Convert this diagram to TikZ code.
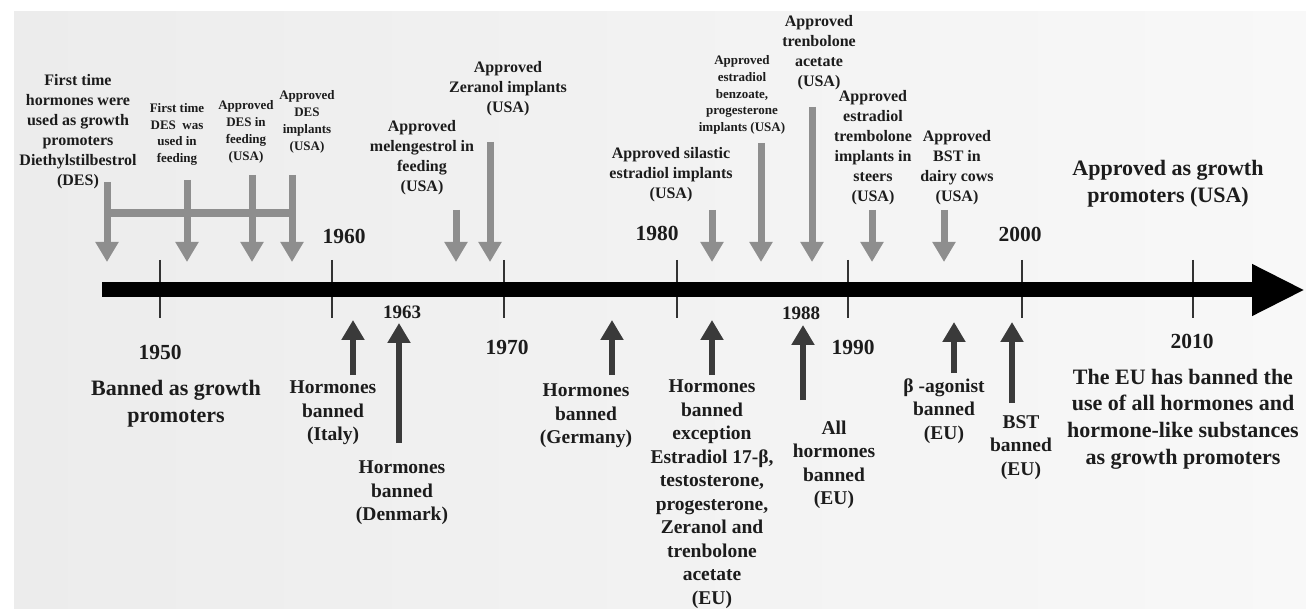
\documentclass[tikz,border=0pt]{standalone}
\usepackage{fontspec}
\setmainfont{Liberation Serif}
\usetikzlibrary{arrows.meta}
\definecolor{txt}{HTML}{1C1C1C}
\definecolor{usa}{HTML}{8E8E8E}
\definecolor{eu}{HTML}{3A3A3A}
\definecolor{bgA}{HTML}{ECECEC}
\definecolor{bgB}{HTML}{F8F8F8}
\definecolor{tickc}{HTML}{333333}
\begin{document}
\begin{tikzpicture}[x=1pt,y=-1pt,
  lbl/.style={align=center,inner sep=0pt,text=txt},
  sA/.style={lbl,font=\bfseries\fontsize{13}{16.8}\selectfont},
  sB/.style={lbl,font=\bfseries\fontsize{16}{20}\selectfont},
  sC/.style={lbl,font=\bfseries\fontsize{19.5}{23.4}\selectfont},
  sD/.style={lbl,font=\bfseries\fontsize{22}{26.7}\selectfont},
  yr/.style={lbl,font=\bfseries\fontsize{21.5}{24}\selectfont},
  yrs/.style={lbl,font=\bfseries\fontsize{19}{22}\selectfont},
  usaarrow/.style={draw=usa,line width=7pt,-{Triangle[width=22pt,length=20pt]}},
  euarrow/.style={draw=eu,line width=6pt,-{Triangle[width=22pt,length=20pt]}},
  tickline/.style={draw=tickc,line width=1.4pt}
]
\useasboundingbox (0,0) rectangle (1306,609);
\fill[white] (0,0) rectangle (1306,609);
\shade[left color=bgA,right color=bgB] (14,12) rectangle (1306,609);

% ticks
\foreach \x in {160,332,504,677,848,1022,1193}{
  \draw[tickline] (\x,260) -- (\x,318);
}
% main axis
\coordinate (axs) at (102,290);
\coordinate (axe) at (1305,290);
\draw[line width=15pt,-{Triangle[width=48pt,length=53pt]}] (axs) -- (axe);

% years
\node[yr]  (y1950) at (160,352) {1950};
\node[yr]  (y1960) at (344,236) {1960};
\node[yrs] (y1963) at (402,312) {1963};
\node[yr]  (y1970) at (507,347) {1970};
\node[yr]  (y1980) at (657,233) {1980};
\node[yrs] (y1988) at (801,313) {1988};
\node[yr]  (y1990) at (853,347) {1990};
\node[yr]  (y2000) at (1020,234) {2000};
\node[yr]  (y2010) at (1192,341) {2010};

% top labels (USA)
\node[sB] (l1) at (78,132) {First time\\hormones were\\used as growth\\promoters\\Diethylstilbestrol\\(DES)};
\node[sA] (l2) at (177,134.5) {First time\\DES\ \ was\\used in\\feeding};
\node[sA] (l3) at (246,132) {Approved\\DES in\\feeding\\(USA)};
\node[sA] (l4) at (307,122) {Approved\\DES\\implants\\(USA)};
\node[sB] (l5) at (422,158) {Approved\\melengestrol in\\feeding\\(USA)};
\node[sB] (l6) at (508,88.5) {Approved\\Zeranol implants\\(USA)};
\node[sB] (l7) at (671,175) {Approved silastic\\estradiol implants\\(USA)};
\node[sA] (l8) at (742,95) {Approved\\estradiol\\benzoate,\\progesterone\\implants (USA)};
\node[sB] (l9) at (819,53) {Approved\\trenbolone\\acetate\\(USA)};
\node[sB] (l10) at (873,148) {Approved\\estradiol\\trembolone\\implants in\\steers\\(USA)};
\node[sB] (l11) at (957,168) {Approved\\BST in\\dairy cows\\(USA)};
\node[sD] (l12) at (1168,184) {Approved as growth\\promoters (USA)};

% bottom labels (bans)
\node[sD] (b0) at (176,403.5) {Banned as growth\\promoters};
\node[sC] (b1) at (333,413) {Hormones\\banned\\(Italy)};
\node[sC] (b2) at (402,493) {Hormones\\banned\\(Denmark)};
\node[sC] (b3) at (586,416) {Hormones\\banned\\(Germany)};
\node[lbl,font=\bfseries\fontsize{19.5}{23.5}\selectfont] (b4) at (712,494) {Hormones\\banned\\exception\\Estradiol 17-β,\\testosterone,\\progesterone,\\Zeranol and\\trenbolone\\acetate\\(EU)};
\node[sC] (b5) at (834,465) {All\\hormones\\banned\\(EU)};
\node[sC] (b6) at (944,411) {β -agonist\\banned\\(EU)};
\node[sC] (b7) at (1021,447.5) {BST\\banned\\(EU)};
\node[sD] (b8) at (1183,419) {The EU has banned the\\use of all hormones and\\hormone-like substances\\as growth promoters};

% top-left joining bar
\coordinate (j1) at (107,213);
\coordinate (j4) at (292,213);
\draw[draw=usa,line width=8pt] (j1) -- (j4);

% USA arrows
\foreach \n/\x/\t in {a1/107/182,a2/187/180,a3/252/175,a4/292/175,a5/456/210,a6/490/142,a7/712/210,a8/761/143,a9/812/107,a10/872/210,a11/944/210}{
  \coordinate (\n s) at (\x,\t);
  \coordinate (\n e) at (\x,262);
  \draw[usaarrow] (\n s) -- (\n e);
}

% EU arrows
\foreach \n/\x/\b/\t in {e1/353/375/320,e2/399/443/323,e3/612/375/320,e4/712/375/320,e5/803/400/325,e6/954/373/322,e7/1012/403/322}{
  \coordinate (\n s) at (\x,\b);
  \coordinate (\n e) at (\x,\t);
  \draw[euarrow] (\n s) -- (\n e);
}
\end{tikzpicture}
\end{document}
